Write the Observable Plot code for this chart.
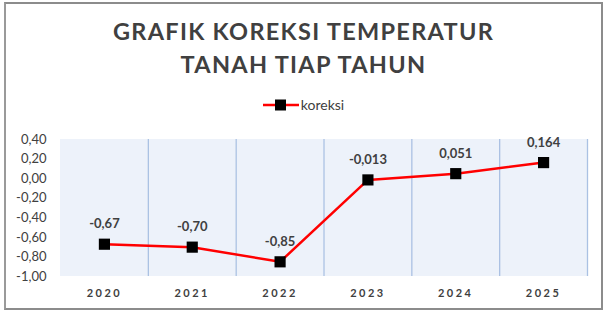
<!DOCTYPE html>
<html>
<head>
<meta charset="utf-8">
<script src="https://cdn.jsdelivr.net/npm/d3@7"></script>
<script src="https://cdn.jsdelivr.net/npm/@observablehq/plot@0.6"></script>
<style>
  html, body { margin: 0; padding: 0; background: #fff; }
  #wrap { position: relative; width: 607px; height: 320px; overflow: hidden; font-family: Lato, "Open Sans", sans-serif; }
  #frame { position: absolute; left: 4px; top: 2px; width: 599px; height: 308px; border: 2px solid #8c8c8c; border-left-color: #9a9a9a; box-sizing: border-box; }
  #title { position: absolute; left: 0; top: 15px; width: 607px; text-align: center; font-weight: 700; font-size: 23.5px; line-height: 33px; letter-spacing: 1.3px; color: #404040; }
  #legend { position: absolute; left: 0; top: 96px; width: 607px; text-align: center; font-size: 14px; color: #404040; display: flex; justify-content: center; align-items: center; gap: 2px; }
  #chart { position: absolute; left: 0; top: 120px; }
  #chart g[aria-label="x-axis tick label"] text { letter-spacing: 2.5px; }
</style>
</head>
<body>
<div id="wrap">
  <div id="frame"></div>
  <div id="title">GRAFIK KOREKSI TEMPERATUR<br>TANAH TIAP TAHUN</div>
  <div id="legend"><svg width="36" height="14"><line x1="0" x2="36" y1="7" y2="7" stroke="#ff0000" stroke-width="2.5"/><rect x="12" y="1.5" width="11" height="11" fill="#000"/></svg><span>koreksi</span></div>
  <div id="chart"></div>
</div>
<script>
const years = ["2020", "2021", "2022", "2023", "2024", "2025"];
const koreksi = [-0.67, -0.70, -0.85, -0.013, 0.051, 0.164];
const valueLabels = ["-0,67", "-0,70", "-0,85", "-0,013", "0,051", "0,164"];
const yTicks = [0.4, 0.2, 0, -0.2, -0.4, -0.6, -0.8, -1.0];

const data = years.map((year, i) => ({i, year, value: koreksi[i], label: valueLabels[i]}));
const fmtY = v => d3.format(".2f")(v).replace(".", ",").replace("−", "-");

const chart = Plot.plot({
  width: 607,
  height: 200,
  marginLeft: 60,
  marginRight: 20,
  marginTop: 19,
  marginBottom: 44,
  style: {fontFamily: "Lato, 'Open Sans', sans-serif", color: "#404040", background: "transparent"},
  x: {type: "linear", domain: [-0.5, years.length - 0.5]},
  y: {domain: [-1, 0.4]},
  marks: [
    Plot.rect(data, {x1: d => d.i - 0.5, x2: d => d.i + 0.5, y1: -1, y2: 0.4, fill: "#edf2fa"}),
    Plot.ruleX(data.slice(1).concat([{i: years.length}]), {x: d => d.i - 0.5, y1: -1, y2: 0.4, stroke: "#aac1e3", strokeWidth: 1.3}),
    Plot.axisY(yTicks, {tickSize: 0, tickPadding: 14, tickFormat: fmtY, fontSize: 13, fill: "#404040", label: null}),
    Plot.axisX(data.map(d => d.i), {tickSize: 0, tickPadding: 13, tickFormat: i => years[i], fontSize: 11, fontWeight: "bold", fill: "#404040", label: null}),
    Plot.line(data, {x: "i", y: "value", stroke: "#ff0000", strokeWidth: 2.5}),
    Plot.dot(data, {x: "i", y: "value", symbol: "square", r: 6.3, fill: "#000"}),
    Plot.text(data, {x: "i", y: "value", text: "label", dy: -20, fontSize: 13, fontWeight: "bold", fill: "#404040"})
  ]
});
document.getElementById("chart").appendChild(chart);
</script>
</body>
</html>
